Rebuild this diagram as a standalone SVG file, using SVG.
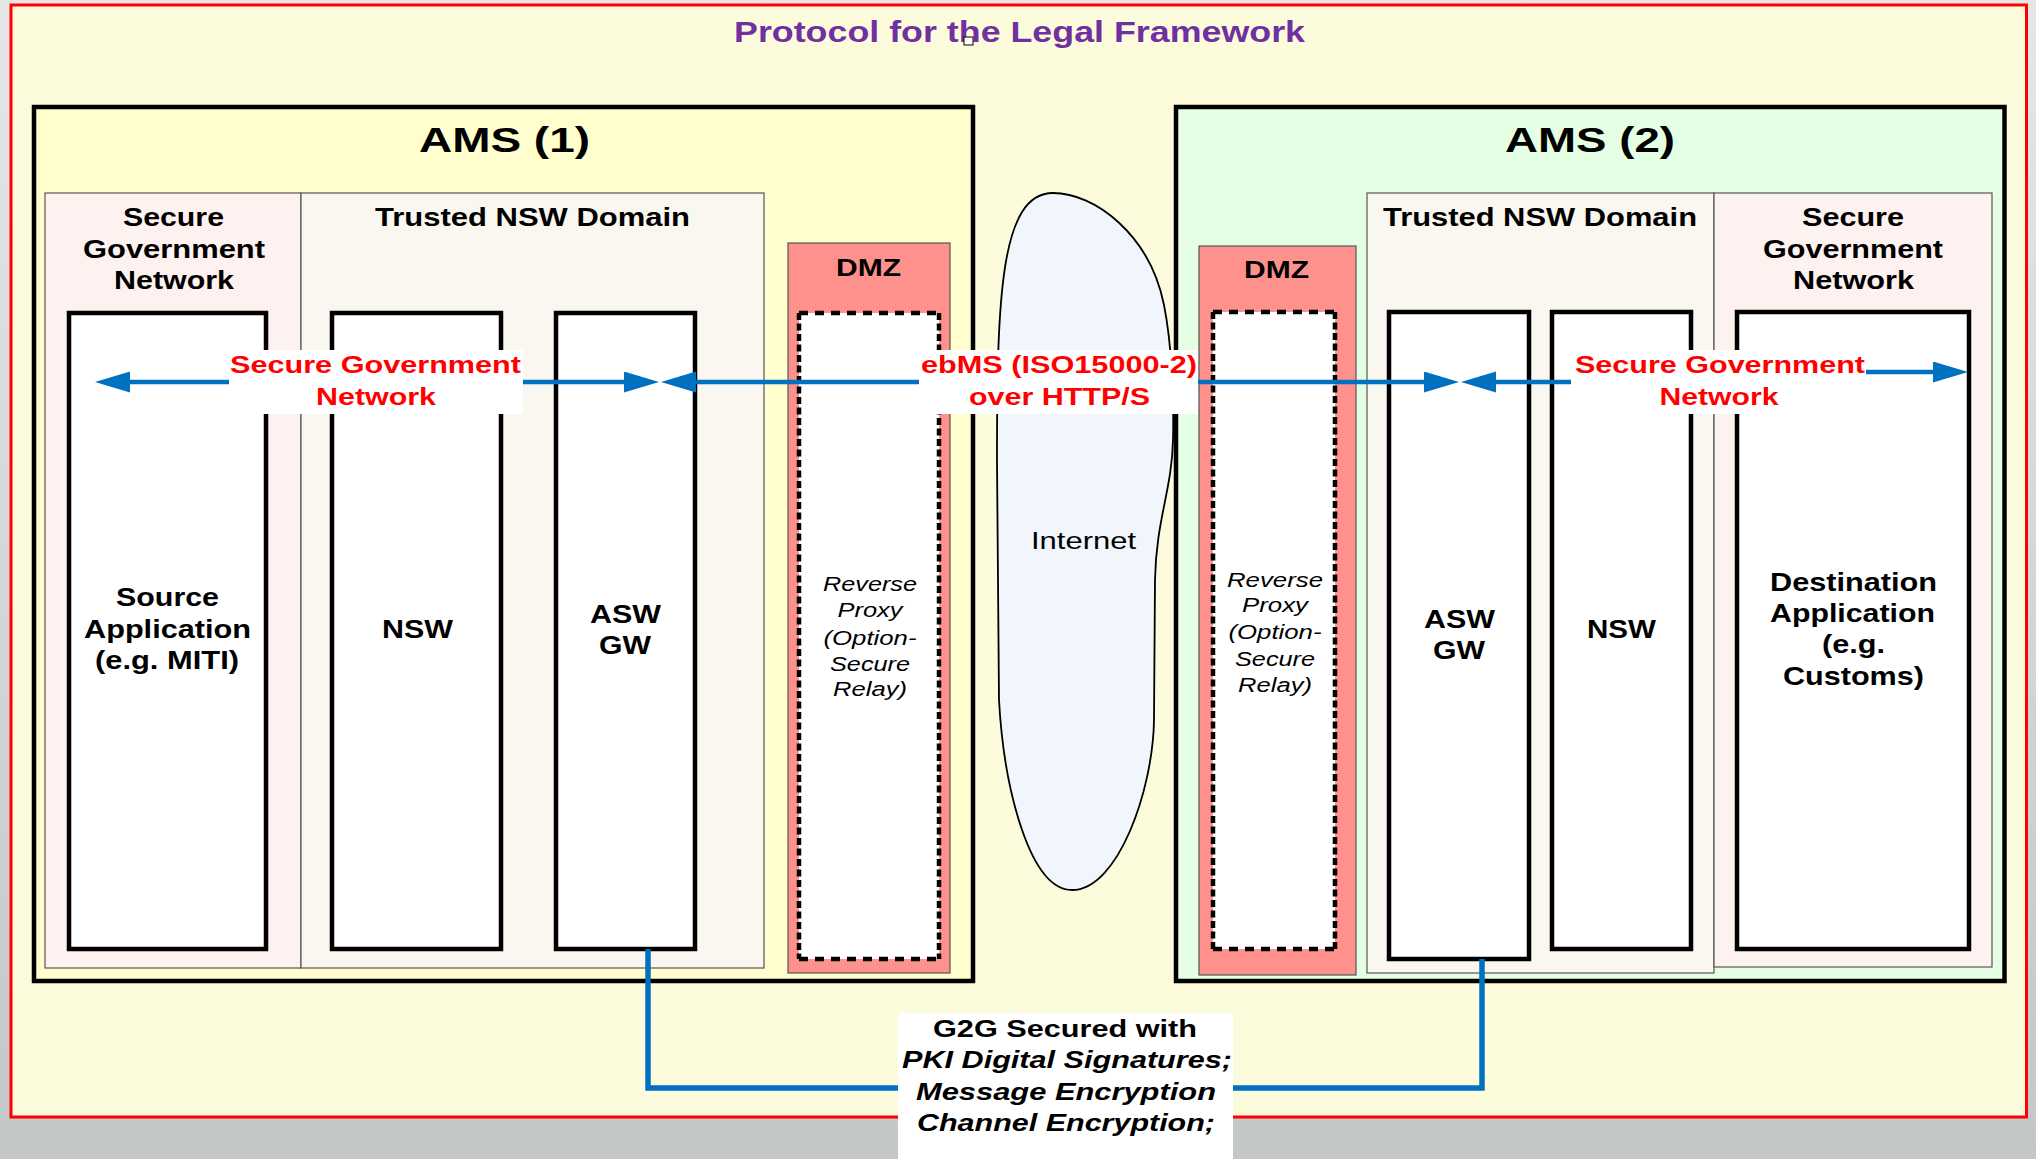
<svg xmlns="http://www.w3.org/2000/svg" width="2036" height="1159" viewBox="0 0 2036 1159">
  <style>
    text { font-family: "Liberation Sans", Arial, sans-serif; text-anchor: middle; }
    .title { font-size: 30px; font-weight: bold; fill: #7030a0; }
    .ams { font-size: 35px; font-weight: bold; fill: #000; }
    .head { font-size: 26px; font-weight: bold; fill: #000; }
    .dmz { font-size: 24px; font-weight: bold; fill: #000; }
    .node { font-size: 25.5px; font-weight: bold; fill: #000; }
    .proxy { font-size: 20px; font-style: italic; fill: #000; }
    .net { font-size: 24.5px; fill: #000; }
    .red { font-size: 24px; font-weight: bold; fill: #ff0000; }
    .g2g { font-size: 23px; font-weight: bold; fill: #000; }
    .bi { font-style: italic; }
    .app { fill: #ffffff; stroke: #000; stroke-width: 4.5; }
    .panel { stroke: #555; stroke-width: 1.2; }
    .dmzbox { fill: #ff918c; stroke: #555; stroke-width: 1.2; }
    .dashv { stroke: #000; stroke-width: 4.5; stroke-dasharray: 7 3.5; fill: none; }
    .dashh { stroke: #000; stroke-width: 4.5; stroke-dasharray: 9 7; fill: none; }
    .flow { stroke: #0070c0; stroke-width: 4.5; fill: none; }
    .link { stroke: #0070c0; stroke-width: 5.5; fill: none; }
    .labelbg { fill: #ffffff; }
  </style>
  <defs>
    <linearGradient id="bgGrad" x1="0" y1="0" x2="0" y2="1">
      <stop offset="0" stop-color="#e6e6e6"/>
      <stop offset="1" stop-color="#c3c7c8"/>
    </linearGradient>
    <marker id="head" markerUnits="userSpaceOnUse" markerWidth="36" markerHeight="22" refX="0" refY="10.5" orient="auto">
      <path d="M0,0 L35,10.5 L0,21 Z" fill="#0070c0"/>
    </marker>
  </defs>

  <!-- page background and outer frame -->
  <rect x="0" y="0" width="2036" height="1159" fill="url(#bgGrad)"/>
  <rect x="11" y="5" width="2015.5" height="1112" fill="#fcfcdc" stroke="#ff0000" stroke-width="3"/>
  <text class="title" x="1019.5" y="42" textLength="571" lengthAdjust="spacingAndGlyphs">Protocol for the Legal Framework</text>
  <rect x="964" y="37" width="9" height="8" fill="#ffffff" stroke="#000" stroke-width="1"/>

  <!-- AMS (1) -->
  <g id="ams1">
    <rect x="34" y="107" width="939" height="874" fill="#fffecc" stroke="#000" stroke-width="4.5"/>
    <text class="ams" x="504.5" y="152" textLength="171" lengthAdjust="spacingAndGlyphs">AMS (1)</text>
  </g>
  <g id="ams1-secure-net">
    <rect class="panel" x="45" y="193" width="256" height="775" fill="#fdf2ef"/>
    <text class="head" x="173.5" y="226" textLength="101" lengthAdjust="spacingAndGlyphs">Secure</text>
    <text class="head" x="174" y="258" textLength="182" lengthAdjust="spacingAndGlyphs">Government</text>
    <text class="head" x="174" y="289" textLength="120" lengthAdjust="spacingAndGlyphs">Network</text>
  </g>
  <g id="ams1-trusted">
    <rect class="panel" x="301" y="193" width="463" height="775" fill="#faf7f1"/>
    <text class="head" x="532.5" y="226" textLength="315" lengthAdjust="spacingAndGlyphs">Trusted NSW Domain</text>
  </g>
  <g id="ams1-dmz">
    <rect class="dmzbox" x="788" y="243" width="162" height="730"/>
    <text class="dmz" x="868.5" y="276" textLength="65" lengthAdjust="spacingAndGlyphs">DMZ</text>
  </g>
  <g id="ams1-proxy">
    <rect x="799" y="313" width="140" height="646" fill="#ffffff"/>
    <line class="dashv" x1="799" y1="313" x2="799" y2="959"/>
    <line class="dashv" x1="939" y1="313" x2="939" y2="959"/>
    <line class="dashh" x1="799" y1="313" x2="939" y2="313"/>
    <line class="dashh" x1="799" y1="959" x2="939" y2="959"/>
    <text class="proxy" x="870" y="591" textLength="94" lengthAdjust="spacingAndGlyphs">Reverse</text>
    <text class="proxy" x="870" y="617" textLength="65" lengthAdjust="spacingAndGlyphs">Proxy</text>
    <text class="proxy" x="870" y="645" textLength="93" lengthAdjust="spacingAndGlyphs">(Option-</text>
    <text class="proxy" x="870" y="671" textLength="80" lengthAdjust="spacingAndGlyphs">Secure</text>
    <text class="proxy" x="870" y="696" textLength="74" lengthAdjust="spacingAndGlyphs">Relay)</text>
  </g>
  <g id="source-app">
    <rect class="app" x="69" y="313" width="197" height="636"/>
    <text class="node" x="167.5" y="606" textLength="103" lengthAdjust="spacingAndGlyphs">Source</text>
    <text class="node" x="167.5" y="638" textLength="167" lengthAdjust="spacingAndGlyphs">Application</text>
    <text class="node" x="167" y="669" textLength="144" lengthAdjust="spacingAndGlyphs">(e.g. MITI)</text>
  </g>
  <g id="nsw-1">
    <rect class="app" x="332" y="313" width="169" height="636"/>
    <text class="node" x="417.5" y="638" textLength="71" lengthAdjust="spacingAndGlyphs">NSW</text>
  </g>
  <g id="asw-gw-1">
    <rect class="app" x="556" y="313" width="139" height="636"/>
    <text class="node" x="625.5" y="623" textLength="71" lengthAdjust="spacingAndGlyphs">ASW</text>
    <text class="node" x="625" y="654" textLength="52" lengthAdjust="spacingAndGlyphs">GW</text>
  </g>

  <!-- Internet -->
  <g id="internet">
    <path d="M1053,193 C1095,193 1150,235 1164,305 C1172,345 1174,400 1173,440 C1172,490 1156,520 1155,580 L1154,720 C1153,790 1118,890 1072,890 C1030,890 1004,790 999,700 L997,460 C997,300 1000,193 1053,193 Z" fill="#f0f6fc" stroke="#000" stroke-width="1.8"/>
    <text class="net" x="1083.5" y="549" textLength="105" lengthAdjust="spacingAndGlyphs">Internet</text>
  </g>

  <!-- AMS (2) -->
  <g id="ams2">
    <rect x="1176" y="107" width="828.5" height="874" fill="#e5ffe5" stroke="#000" stroke-width="4.5"/>
    <text class="ams" x="1590" y="152" textLength="170" lengthAdjust="spacingAndGlyphs">AMS (2)</text>
  </g>
  <g id="ams2-dmz">
    <rect class="dmzbox" x="1199" y="246" width="157" height="729"/>
    <text class="dmz" x="1276.5" y="278" textLength="65" lengthAdjust="spacingAndGlyphs">DMZ</text>
  </g>
  <g id="ams2-proxy">
    <rect x="1213" y="312" width="122" height="637" fill="#ffffff"/>
    <line class="dashv" x1="1213" y1="312" x2="1213" y2="949"/>
    <line class="dashv" x1="1335" y1="312" x2="1335" y2="949"/>
    <line class="dashh" x1="1213" y1="312" x2="1335" y2="312"/>
    <line class="dashh" x1="1213" y1="949" x2="1335" y2="949"/>
    <text class="proxy" x="1275" y="587" textLength="96" lengthAdjust="spacingAndGlyphs">Reverse</text>
    <text class="proxy" x="1275" y="612" textLength="66" lengthAdjust="spacingAndGlyphs">Proxy</text>
    <text class="proxy" x="1275" y="639" textLength="93" lengthAdjust="spacingAndGlyphs">(Option-</text>
    <text class="proxy" x="1275" y="666" textLength="80" lengthAdjust="spacingAndGlyphs">Secure</text>
    <text class="proxy" x="1275" y="692" textLength="74" lengthAdjust="spacingAndGlyphs">Relay)</text>
  </g>
  <g id="ams2-trusted">
    <rect class="panel" x="1367" y="193" width="347" height="780" fill="#faf7f1"/>
    <text class="head" x="1540" y="226" textLength="314" lengthAdjust="spacingAndGlyphs">Trusted NSW Domain</text>
  </g>
  <g id="ams2-secure-net">
    <rect class="panel" x="1714" y="193" width="278" height="774" fill="#fdf2ef"/>
    <text class="head" x="1853" y="226" textLength="102" lengthAdjust="spacingAndGlyphs">Secure</text>
    <text class="head" x="1853" y="258" textLength="180" lengthAdjust="spacingAndGlyphs">Government</text>
    <text class="head" x="1853.5" y="289" textLength="121" lengthAdjust="spacingAndGlyphs">Network</text>
  </g>
  <g id="asw-gw-2">
    <rect class="app" x="1389" y="312" width="140" height="647"/>
    <text class="node" x="1459.5" y="628" textLength="71" lengthAdjust="spacingAndGlyphs">ASW</text>
    <text class="node" x="1459" y="659" textLength="52" lengthAdjust="spacingAndGlyphs">GW</text>
  </g>
  <g id="nsw-2">
    <rect class="app" x="1552" y="312" width="139" height="637"/>
    <text class="node" x="1621.5" y="638" textLength="69" lengthAdjust="spacingAndGlyphs">NSW</text>
  </g>
  <g id="destination-app">
    <rect class="app" x="1737" y="312" width="232" height="637"/>
    <text class="node" x="1853.5" y="591" textLength="167" lengthAdjust="spacingAndGlyphs">Destination</text>
    <text class="node" x="1852.5" y="622" textLength="165" lengthAdjust="spacingAndGlyphs">Application</text>
    <text class="node" x="1853.5" y="653" textLength="63" lengthAdjust="spacingAndGlyphs">(e.g.</text>
    <text class="node" x="1853.5" y="685" textLength="141" lengthAdjust="spacingAndGlyphs">Customs)</text>
  </g>

  <!-- connectors -->
  <g id="connectors">
    <line class="flow" x1="229" y1="382" x2="130" y2="382" marker-end="url(#head)"/>
    <line class="flow" x1="523" y1="382" x2="624" y2="382" marker-end="url(#head)"/>
    <line class="flow" x1="919" y1="382" x2="696" y2="382" marker-end="url(#head)"/>
    <line class="flow" x1="1198" y1="382" x2="1424" y2="382" marker-end="url(#head)"/>
    <line class="flow" x1="1573" y1="382" x2="1496" y2="382" marker-end="url(#head)"/>
    <line class="flow" x1="1866" y1="372" x2="1933" y2="372" marker-end="url(#head)"/>
    <path class="link" d="M648,949 V1088 H899"/>
    <path class="link" d="M1482,959 V1088 H1233"/>
  </g>

  <!-- connector labels -->
  <g id="label-sgn-1">
    <rect class="labelbg" x="229" y="350" width="294" height="64"/>
    <text class="red" x="375.5" y="373" textLength="291" lengthAdjust="spacingAndGlyphs">Secure Government</text>
    <text class="red" x="376" y="405" textLength="120" lengthAdjust="spacingAndGlyphs">Network</text>
  </g>
  <g id="label-ebms">
    <rect class="labelbg" x="919" y="350" width="279" height="64"/>
    <text class="red" x="1059" y="373" textLength="276" lengthAdjust="spacingAndGlyphs">ebMS (ISO15000-2)</text>
    <text class="red" x="1059.5" y="405" textLength="181" lengthAdjust="spacingAndGlyphs">over HTTP/S</text>
  </g>
  <g id="label-sgn-2">
    <rect class="labelbg" x="1571" y="350" width="295" height="64"/>
    <text class="red" x="1720" y="373" textLength="290" lengthAdjust="spacingAndGlyphs">Secure Government</text>
    <text class="red" x="1719" y="405" textLength="119" lengthAdjust="spacingAndGlyphs">Network</text>
  </g>
  <g id="label-g2g">
    <rect class="labelbg" x="898" y="1013" width="335" height="146"/>
    <text class="g2g" x="1065" y="1037" textLength="264" lengthAdjust="spacingAndGlyphs">G2G Secured with</text>
    <text class="g2g bi" x="1067" y="1068" textLength="330" lengthAdjust="spacingAndGlyphs">PKI Digital Signatures;</text>
    <text class="g2g bi" x="1066" y="1100" textLength="300" lengthAdjust="spacingAndGlyphs">Message Encryption</text>
    <text class="g2g bi" x="1066" y="1131" textLength="298" lengthAdjust="spacingAndGlyphs">Channel Encryption;</text>
  </g>
</svg>
